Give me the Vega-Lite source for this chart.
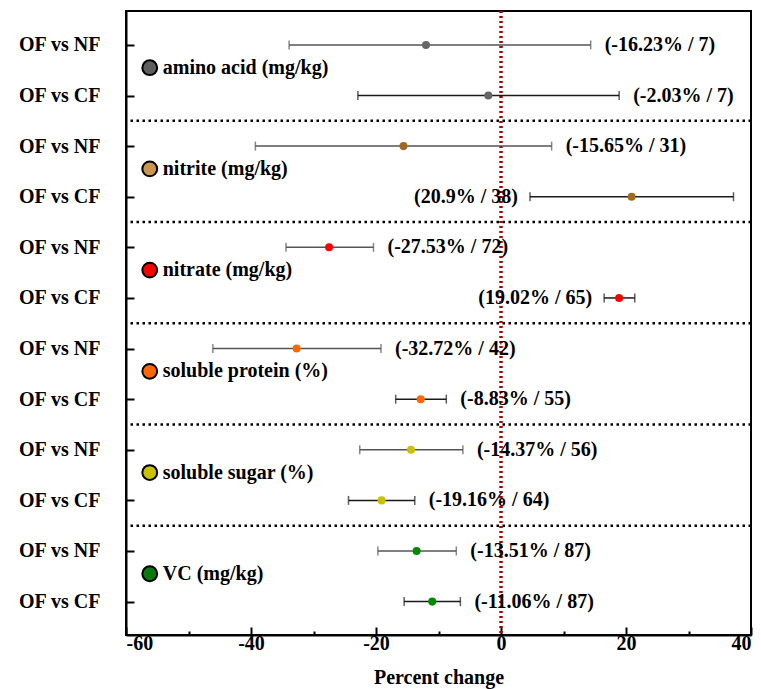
{
  "$schema": "https://vega.github.io/schema/vega-lite/v6.json",
  "width": 625,
  "height": 624,
  "autosize": {"type": "none"},
  "padding": {"left": 126, "top": 11, "right": 10, "bottom": 54},
  "background": "white",
  "config": {
    "font": "Liberation Serif",
    "view": {"stroke": "black", "strokeWidth": 2},
    "axis": {
      "grid": false,
      "labelFont": "Liberation Serif",
      "labelFontWeight": "bold",
      "labelFontSize": 20,
      "labelColor": "black",
      "titleFont": "Liberation Serif",
      "titleFontWeight": "bold",
      "titleFontSize": 20,
      "titleColor": "black",
      "domainColor": "black",
      "domainWidth": 2,
      "tickColor": "black",
      "tickWidth": 2
    }
  },
  "datasets": {
    "rows": [
      {"row": 1, "cat": "amino acid (mg/kg)", "cmp": "OF vs NF", "mean": -12.0, "lo": -33.9, "hi": 14.35, "label": "(-16.23% / 7)", "side": "right"},
      {"row": 2, "cat": "amino acid (mg/kg)", "cmp": "OF vs CF", "mean": -2.03, "lo": -22.9, "hi": 18.9, "label": "(-2.03% / 7)", "side": "right"},
      {"row": 3, "cat": "nitrite (mg/kg)", "cmp": "OF vs NF", "mean": -15.6, "lo": -39.3, "hi": 8.1, "label": "(-15.65% / 31)", "side": "right"},
      {"row": 4, "cat": "nitrite (mg/kg)", "cmp": "OF vs CF", "mean": 20.9, "lo": 4.64, "hi": 37.2, "label": "(20.9% / 38)", "side": "left"},
      {"row": 5, "cat": "nitrate (mg/kg)", "cmp": "OF vs NF", "mean": -27.5, "lo": -34.4, "hi": -20.4, "label": "(-27.53% / 72)", "side": "right"},
      {"row": 6, "cat": "nitrate (mg/kg)", "cmp": "OF vs CF", "mean": 18.9, "lo": 16.5, "hi": 21.4, "label": "(19.02% / 65)", "side": "left"},
      {"row": 7, "cat": "soluble protein (%)", "cmp": "OF vs NF", "mean": -32.7, "lo": -46.1, "hi": -19.2, "label": "(-32.72% / 42)", "side": "right"},
      {"row": 8, "cat": "soluble protein (%)", "cmp": "OF vs CF", "mean": -12.85, "lo": -16.85, "hi": -8.75, "label": "(-8.83% / 55)", "side": "right"},
      {"row": 9, "cat": "soluble sugar (%)", "cmp": "OF vs NF", "mean": -14.4, "lo": -22.6, "hi": -6.1, "label": "(-14.37% / 56)", "side": "right"},
      {"row": 10, "cat": "soluble sugar (%)", "cmp": "OF vs CF", "mean": -19.1, "lo": -24.4, "hi": -13.8, "label": "(-19.16% / 64)", "side": "right"},
      {"row": 11, "cat": "VC (mg/kg)", "cmp": "OF vs NF", "mean": -13.5, "lo": -19.7, "hi": -7.15, "label": "(-13.51% / 87)", "side": "right"},
      {"row": 12, "cat": "VC (mg/kg)", "cmp": "OF vs CF", "mean": -11.0, "lo": -15.5, "hi": -6.5, "label": "(-11.06% / 87)", "side": "right"}
    ],
    "cats": [
      {"cat": "amino acid (mg/kg)", "pos": 1.45},
      {"cat": "nitrite (mg/kg)", "pos": 3.45},
      {"cat": "nitrate (mg/kg)", "pos": 5.45},
      {"cat": "soluble protein (%)", "pos": 7.45},
      {"cat": "soluble sugar (%)", "pos": 9.45},
      {"cat": "VC (mg/kg)", "pos": 11.45}
    ],
    "seps": [{"y": 2.5}, {"y": 4.5}, {"y": 6.5}, {"y": 8.5}, {"y": 10.5}]
  },
  "layer": [
    {
      "data": {"name": "seps"},
      "mark": {"type": "rule", "color": "black", "strokeWidth": 2.5, "strokeDash": [2.5, 3.5]},
      "encoding": {
        "y": {
          "field": "y", "type": "quantitative",
          "scale": {"domain": [0.33, 12.66], "reverse": true, "nice": false, "zero": false},
          "axis": {
            "values": [1, 2, 3, 4, 5, 6, 7, 8, 9, 10, 11, 12],
            "labelExpr": "datum.value % 2 == 1 ? 'OF vs NF' : 'OF vs CF'",
            "tickSize": -8,
            "labelPadding": 34,
            "title": null
          }
        }
      }
    },
    {
      "data": {"name": "seps"},
      "mark": {"type": "rule", "color": "#b00000", "strokeWidth": 2.5, "strokeDash": [2, 3]},
      "encoding": {
        "x": {
          "datum": 0, "type": "quantitative",
          "scale": {"domain": [-60, 40], "nice": false, "zero": false},
          "axis": {
            "values": [-60, -50, -40, -30, -20, -10, 0, 10, 20, 30, 40],
            "labelExpr": "datum.value % 20 === 0 ? '' + datum.value : ''",
            "tickSize": {"condition": {"test": "datum.value % 20 === 0", "value": -8}, "value": -4},
            "labelPadding": 6,
            "title": "Percent change",
            "titlePadding": 14,
            "orient": "bottom"
          }
        }
      }
    },
    {
      "data": {"name": "rows"},
      "mark": {"type": "rule", "strokeWidth": 1.5},
      "encoding": {
        "x": {"field": "lo", "type": "quantitative"},
        "x2": {"field": "hi"},
        "y": {"field": "row", "type": "quantitative"},
        "color": {"condition": {"test": "datum.cmp === 'OF vs NF'", "value": "#555555"}, "value": "#1a1a1a"}
      }
    },
    {
      "data": {"name": "rows"},
      "mark": {"type": "tick", "orient": "vertical", "size": 9, "thickness": 1.5},
      "encoding": {
        "x": {"field": "lo", "type": "quantitative"},
        "y": {"field": "row", "type": "quantitative"},
        "color": {"condition": {"test": "datum.cmp === 'OF vs NF'", "value": "#555555"}, "value": "#1a1a1a"}
      }
    },
    {
      "data": {"name": "rows"},
      "mark": {"type": "tick", "orient": "vertical", "size": 9, "thickness": 1.5},
      "encoding": {
        "x": {"field": "hi", "type": "quantitative"},
        "y": {"field": "row", "type": "quantitative"},
        "color": {"condition": {"test": "datum.cmp === 'OF vs NF'", "value": "#555555"}, "value": "#1a1a1a"}
      }
    },
    {
      "data": {"name": "rows"},
      "mark": {"type": "circle", "size": 65, "opacity": 1},
      "encoding": {
        "x": {"field": "mean", "type": "quantitative"},
        "y": {"field": "row", "type": "quantitative"},
        "color": {
          "field": "cat", "type": "nominal", "legend": null,
          "scale": {
            "domain": ["amino acid (mg/kg)", "nitrite (mg/kg)", "nitrate (mg/kg)", "soluble protein (%)", "soluble sugar (%)", "VC (mg/kg)"],
            "range": ["#666666", "#a0691e", "#ff0000", "#ff6600", "#c8c000", "#008a00"]
          }
        }
      }
    },
    {
      "data": {"name": "rows"},
      "transform": [{"filter": "datum.side === 'right'"}],
      "mark": {"type": "text", "align": "left", "baseline": "middle", "dx": 14, "fontSize": 20, "fontWeight": "bold", "font": "Liberation Serif", "color": "black"},
      "encoding": {
        "x": {"field": "hi", "type": "quantitative"},
        "y": {"field": "row", "type": "quantitative"},
        "text": {"field": "label"}
      }
    },
    {
      "data": {"name": "rows"},
      "transform": [{"filter": "datum.side === 'left'"}],
      "mark": {"type": "text", "align": "right", "baseline": "middle", "dx": -12, "fontSize": 20, "fontWeight": "bold", "font": "Liberation Serif", "color": "black"},
      "encoding": {
        "x": {"field": "lo", "type": "quantitative"},
        "y": {"field": "row", "type": "quantitative"},
        "text": {"field": "label"}
      }
    },
    {
      "data": {"name": "cats"},
      "mark": {"type": "point", "shape": "circle", "filled": true, "size": 220, "stroke": "black", "strokeWidth": 2, "opacity": 1},
      "encoding": {
        "x": {"datum": -56.2, "type": "quantitative"},
        "y": {"field": "pos", "type": "quantitative"},
        "fill": {
          "field": "cat", "type": "nominal", "legend": null,
          "scale": {
            "domain": ["amino acid (mg/kg)", "nitrite (mg/kg)", "nitrate (mg/kg)", "soluble protein (%)", "soluble sugar (%)", "VC (mg/kg)"],
            "range": ["#5f5f5f", "#c8964e", "#ff0000", "#ff6600", "#c8c000", "#0a7a0a"]
          }
        }
      }
    },
    {
      "data": {"name": "cats"},
      "mark": {"type": "text", "align": "left", "baseline": "middle", "dx": 13, "fontSize": 20, "fontWeight": "bold", "font": "Liberation Serif", "color": "black"},
      "encoding": {
        "x": {"datum": -56.2, "type": "quantitative"},
        "y": {"field": "pos", "type": "quantitative"},
        "text": {"field": "cat"}
      }
    }
  ]
}
